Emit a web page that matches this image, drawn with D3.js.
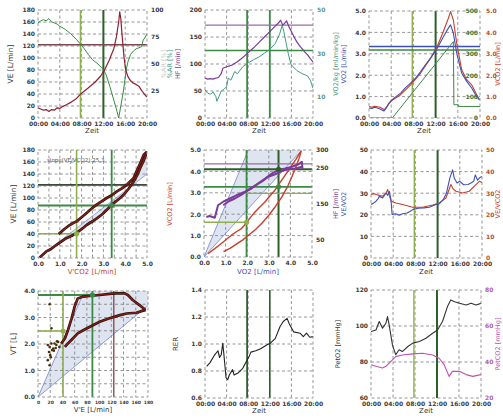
<!DOCTYPE html>
<html><head><meta charset="utf-8">
<script src="https://cdn.jsdelivr.net/npm/d3@7"></script>
<style>body{margin:0;background:#fff}svg{display:block;font-family:"DejaVu Sans",sans-serif}</style>
</head><body><script>
// ---------- DATA ----------
const timeTicks=[0,4,8,12,16,20];
const timeTickLabels=["00:00","04:00","08:00","12:00","16:00","20:00"];
const thresholdTimes=[7.8,12.0];

// Panel 1: VE and breathing reserve vs time
const veTicks=[0,20,40,60,80,100,120,140,160,180];
const brTicks=[25,50,75,100];
const veSeries=[[0,17],[0.5,15],[1,13],[1.5,14],[2,11],[2.5,14],[3,13],[3.5,17],[4,16],[4.5,19],[5.2,22],[6,26],[7,32],[7.7,39],[8.5,45],[9.2,50],[10.5,60],[11.5,70],[12.2,80],[13,95],[13.9,115],[14.4,136],[14.8,160],[15.0,177],[15.2,165],[15.4,141],[15.8,100],[16.1,80],[16.5,69],[17,62],[17.5,58],[18,56],[18.5,53],[19,46],[19.5,40],[20,35]];
const brSeries=[[0,88],[0.5,90],[1,91],[1.5,90],[2,92],[2.5,89],[3,88],[3.5,87],[4,85],[5,82],[6,78],[7,73],[7.7,69],[8.5,64],[9.2,59],[10,54],[11,50],[12,45],[12.5,40],[13.2,29],[14,15],[14.5,6],[14.8,0],[15.3,14],[15.7,26],[16.2,45],[16.5,52],[17,59],[17.5,62],[18,64],[18.5,65],[19,66],[19.3,72],[19.7,75],[20,78]];
const veMaxLine=122;

// Panel 2: HF and O2-pulse vs time
const hfTicks=[0,50,100,150,200];
const p2RightTicks=[10,30,50];
const hfSeries=[[0,74],[0.5,72],[1,73],[1.5,72],[2,74],[2.5,75],[3,82],[3.3,92],[4,95],[5,98],[6,104],[7,112],[8,121],[9,130],[10,140],[11,150],[12,160],[13,170],[13.5,175],[14,181],[14.4,172],[14.8,176],[15.1,180],[15.5,170],[16,160],[16.5,150],[17,141],[17.5,134],[18,128],[18.5,122],[19,117],[19.5,110],[20,104]];
const pulseSeries=[[0,52],[0.5,46],[1,44],[1.5,48],[2,40],[2.2,31],[2.6,40],[3,50],[3.5,53],[4,58],[4.3,74],[4.8,70],[5.5,86],[6,82],[7,95],[8,102],[9,108],[10,113],[11,120],[12,127],[13,138],[13.8,155],[14.3,172],[14.6,160],[15,140],[15.4,120],[15.9,100],[16.3,95],[17,88],[17.5,85],[18,82],[18.5,80],[19,78],[19.5,70],[20,55]];
const hfRefLines=[172,125];

// Panel 3: VO2, VCO2, load vs time
const lTicks=[0,1,2,3,4,5];
const loadTicks=[0,100,200,300,400,500];
const vo2Series=[[0,0.47],[0.5,0.45],[1,0.5],[1.5,0.47],[2,0.42],[2.7,0.33],[3.2,0.5],[3.6,0.7],[4.5,0.93],[5.7,1.16],[6.5,1.4],[7.5,1.63],[8.5,1.9],[9.3,2.17],[10.2,2.5],[11.1,2.8],[11.9,3.1],[12.3,3.26],[13.4,3.8],[14.3,4.2],[14.7,4.35],[15.2,3.96],[15.8,3.03],[16.7,2.1],[17.6,1.71],[18.5,1.4],[19.4,1.0],[19.9,0.85]];
const vco2Series=[[0,0.54],[0.5,0.5],[1,0.55],[2,0.5],[2.8,0.39],[3.9,0.78],[5.7,1.09],[7.5,1.55],[9.3,2.1],[11.1,2.8],[12.3,3.35],[13.4,4.04],[14.3,4.66],[14.7,4.97],[15.2,4.58],[15.8,3.5],[16.7,2.25],[17.6,1.79],[18.5,1.55],[19.4,1.09],[19.9,0.85]];
const loadSeries=[[0,0],[4.2,0],[15.2,357],[15.3,62],[16.1,62],[16.1,54],[20,54]];
const vo2RefLines=[3.34,3.18];

// Panel 4: VE vs VCO2
const veVcoUp=[[0.08,1],[0.38,11],[0.6,15],[0.85,22],[1.1,28],[1.3,33],[1.55,37],[1.77,42],[2.0,48],[2.23,55],[2.45,60],[2.7,66],[2.95,73],[3.15,80],[3.46,91],[3.7,98],[3.92,105],[4.15,115],[4.38,127],[4.55,138],[4.69,150],[4.82,160],[4.92,169],[5.0,177]];
const veVcoDown=[[5.0,177],[4.85,172],[4.69,158],[4.5,143],[4.38,133],[4.08,122],[3.85,116],[3.62,111],[3.4,105],[3.15,100],[2.9,94],[2.69,89],[2.45,82],[2.23,75],[2.0,68],[1.77,61],[1.55,57],[1.38,53],[1.2,48],[1.08,44],[0.95,40]];
const veVcoSlopeLine=[[0,0],[5,140]];
const p4HLines=[122,87.5,40.4];
const p4VLines=[1.77,3.38];
const p4SlopeText="slope(VE/VCO2):25,3";

// Panel 5: VCO2 / HF vs VO2
const hfRightTicks=[50,150,250,300];
const vcoVoA=[[0.19,0.16],[0.35,0.28],[0.5,0.39],[0.7,0.55],[0.89,0.7],[1.1,0.88],[1.27,1.02],[1.5,1.18],[1.74,1.33],[1.97,1.6],[2.15,1.85],[2.36,2.1],[2.6,2.35],[2.83,2.58],[3.05,2.85],[3.29,3.13],[3.5,3.45],[3.76,3.83],[3.92,4.05],[4.07,4.3],[4.25,4.55],[4.38,4.77],[4.5,4.95]];
const vcoVoB=[[0.9,0.25],[1.2,0.4],[1.5,0.6],[1.8,0.8],[2.1,1.05],[2.4,1.3],[2.7,1.6],[3.0,1.95],[3.3,2.35],[3.6,2.8],[3.85,3.25],[4.05,3.7],[4.25,4.2],[4.4,4.6],[4.5,4.95]];
const hfVoA=[[0.11,112],[0.26,115],[0.5,110],[0.65,145],[0.89,155],[1.2,164],[1.5,173],[1.9,183],[2.2,192],[2.5,206],[2.83,220],[3.14,234],[3.45,244],[3.76,248],[4.07,253],[4.38,260],[4.53,267],[4.56,248]];
const hfVoB=[[4.53,253],[4.22,248],[3.91,246],[3.6,241],[3.29,232],[2.98,225],[2.67,211],[2.36,200],[2.05,188],[1.74,175],[1.43,164],[1.12,155],[0.89,145]];
const steepLine=[[0,0],[2.05,5]];
const shallowLine=[[0,0],[4.53,5]];
const p5VLines=[1.97,3.45];

// Panel 6: ventilatory equivalents vs time
const eqTicks=[0,10,20,30,40,50];
const eqO2Series=[[0,24.8],[0.5,25.5],[0.9,26.3],[1.3,27.5],[1.5,28.6],[2.1,27.8],[2.7,30.1],[3.0,29],[3.3,30.9],[3.6,27],[3.8,20.2],[4.5,20.5],[5,19.8],[5.7,20.5],[6.5,20.8],[7.0,21.5],[7.6,22.5],[8.5,23],[9.5,23.2],[10.5,23.5],[11.7,24.8],[12.3,25],[13,27],[13.6,30],[14.2,37],[14.7,40.8],[15.0,37],[15.5,34.7],[16,35.5],[16.7,33.9],[17.5,34],[18,34.7],[18.5,35.5],[18.8,38.5],[19.2,36],[19.5,37],[20,37.8]];
const eqCO2Series=[[0,29.4],[0.5,29.8],[0.9,29.4],[1.5,29],[2.1,28.6],[2.7,30],[3.0,31.7],[3.3,29],[3.6,26.3],[4.5,25.5],[5.7,24.8],[7.5,23.5],[9.3,23.5],[11.1,24.5],[12.3,25.5],[13.5,27.8],[14.4,34],[14.8,32],[15.3,30.9],[16.5,30.1],[17.7,30.9],[18.9,34],[19.5,35.5],[20,35]];

// Panel 7: VT vs VE
const ve7Ticks=[0,20,40,60,80,100,120,140,160,180];
const vtTicks=[0,1,2,3,4];
const vtUp=[[38,2.02],[44,2.21],[49,2.52],[55,2.97],[60,3.41],[65,3.72],[74,3.79],[87,3.82],[101,3.85],[117,3.89],[128,3.91],[142,3.91],[147,3.85],[155,3.66],[166,3.47],[176,3.28]];
const vtDown=[[176,3.28],[172,3.26],[161,3.18],[145,3.15],[134,3.09],[117,2.97],[101,2.84],[85,2.65],[74,2.52],[65,2.4],[57,2.21],[49,2.02],[44,1.89]];
const vtScatter=[[16,1.96],[19,1.89],[22,2.02],[25,1.83],[27,2.02],[30,1.96],[33,2.08],[35,1.89],[18,1.7],[20,1.58],[23,1.77],[16,1.39],[19,1.2],[22,2.59],[19,3.5],[26,1.75],[29,1.85],[31,2.1],[21,1.5]];
const vtSteep=[[0,0],[74,3.9]];
const vtShallow=[[0,0],[180,3.45]];
const p7VLines=[41,89,124];
const p7HLines=[3.85,2.49];

// Panel 8: RER
const rerTicks=[0.6,0.8,1.0,1.2,1.4];
const rerSeries=[[0.3,0.834],[0.9,0.86],[1.8,0.92],[2.4,0.95],[2.7,0.9],[3.0,0.92],[3.3,1.006],[3.6,0.88],[3.9,0.75],[4.2,0.735],[4.5,0.77],[5.1,0.81],[5.4,0.77],[6.1,0.785],[7.0,0.82],[7.6,0.866],[8.2,0.91],[8.5,0.94],[9.4,0.95],[10.3,0.965],[11.5,0.994],[12.1,1.006],[13.0,1.04],[13.9,1.13],[14.5,1.167],[15.2,1.19],[15.6,1.15],[16.4,1.09],[17.6,1.08],[18.2,1.055],[18.8,1.08],[19.4,1.05],[20,1.055]];

// Panel 9: PetO2 / PetCO2
const peto2Ticks=[60,80,100,120];
const petco2Ticks=[20,40,60,80];
const peto2Series=[[0,96.9],[0.9,97.8],[1.5,102.5],[2.1,98.8],[2.7,101.5],[3.0,105.2],[3.3,100.6],[3.9,89.5],[4.5,84],[5.1,86.8],[5.7,85.8],[6.7,88.6],[7.6,90.5],[8.8,91.4],[10,93.2],[11.2,96],[12.1,97.8],[13,102.5],[13.9,110.8],[14.5,114.5],[15.2,113.5],[16.1,112.6],[17.3,111.7],[18.2,112.6],[19.1,111.7],[20,112.6]];
const petco2Series=[[0,38.5],[0.9,37.6],[2.1,36.7],[2.7,37.6],[3.3,39.4],[3.9,41.2],[4.5,43],[5.7,43.9],[7.6,44.5],[9.4,44.9],[11.2,43.9],[12.4,42.1],[13.3,38.5],[14.2,32],[14.8,34.8],[16.1,34.8],[17.3,33],[18.5,32],[20,33]];

// ---------- DRAWING ----------
const svg=d3.select("body").append("svg").attr("width",503).attr("height",418);
const FONT='"DejaVu Sans",sans-serif';
const C={maroon:"#8a2232",green:"#3b8a45",lgreen:"#8fb050",dgreen:"#2e5e2a",purple:"#7a3c98",blue:"#3d4fb8",red:"#c6402c",teal:"#3f9a80",pink:"#c050b0",grid:"#7c7c7c",fill:"#dfe4f1",sblue:"#8090d0"};
let clipN=0;
function panel(L,T,w,h,xd,yd){
  const x=d3.scaleLinear().domain(xd).range([L,L+w]);
  const y=d3.scaleLinear().domain(yd).range([T+h,T]);
  const id="clip"+(clipN++);
  svg.append("clipPath").attr("id",id).append("rect").attr("x",L).attr("y",T).attr("width",w).attr("height",h);
  const g=svg.append("g");
  g.append("rect").attr("x",L).attr("y",T).attr("width",w).attr("height",h).attr("fill","#fff");
  const fillG=g.append("g").attr("clip-path",`url(#${id})`);
  const gridG=g.append("g");
  const data=g.append("g").attr("clip-path",`url(#${id})`);
  const top=g.append("g");
  return {g,x,y,L,T,w,h,fillG,gridG,data,top};
}
function grid(p,xv,yv){
  p.gridG.selectAll(null).data(xv).join("line").attr("x1",d=>p.x(d)).attr("x2",d=>p.x(d)).attr("y1",p.T).attr("y2",p.T+p.h)
   .attr("stroke",C.grid).attr("stroke-width",0.8).attr("stroke-dasharray","3,2.5");
  p.gridG.selectAll(null).data(yv).join("line").attr("y1",d=>p.y(d)).attr("y2",d=>p.y(d)).attr("x1",p.L).attr("x2",p.L+p.w)
   .attr("stroke",C.grid).attr("stroke-width",0.8).attr("stroke-dasharray","3,2.5");
}
function border(p){p.top.append("rect").attr("x",p.L).attr("y",p.T).attr("width",p.w).attr("height",p.h).attr("fill","none").attr("stroke","#8a8a8a").attr("stroke-width",0.9).attr("stroke-dasharray","3,2.5");}
function styleAx(gg,color){gg.select(".domain").remove();gg.selectAll("text").attr("font-size",6).attr("font-weight","bold").attr("fill",color||"#3a3a3a").style("fill",color||"#3a3a3a").attr("font-family",FONT);}
function axisBottom(p,vals,fmt,color){const gg=p.g.append("g").attr("transform",`translate(0,${p.T+p.h})`).call(d3.axisBottom(p.x).tickValues(vals).tickSize(0).tickPadding(4).tickFormat(fmt));styleAx(gg,color);}
function axisLeft(p,scale,vals,fmt,color,xpos){const gg=p.g.append("g").attr("transform",`translate(${xpos===undefined?p.L:xpos},0)`).call(d3.axisLeft(scale).tickValues(vals).tickSize(0).tickPadding(3).tickFormat(fmt));styleAx(gg,color);}
function axisRight(p,scale,vals,fmt,color,xpos){const gg=p.g.append("g").attr("transform",`translate(${xpos===undefined?p.L+p.w:xpos},0)`).call(d3.axisRight(scale).tickValues(vals).tickSize(0).tickPadding(4).tickFormat(fmt));styleAx(gg,color);}
function path(p,data,xs,ys,color,w,layer){(layer||p.data).append("path").datum(data).attr("d",d3.line().x(d=>xs(d[0])).y(d=>ys(d[1]))).attr("fill","none").attr("stroke",color).attr("stroke-width",w).attr("stroke-linejoin","round");}
function thick(p,data,xs,ys){path(p,data,xs,ys,"#2a1408",2.7);path(p,data,xs,ys,"#8a1c1c",1.3);}
function vline(p,v,color,w,y0,y1){p.data.append("line").attr("x1",p.x(v)).attr("x2",p.x(v)).attr("y1",y0===undefined?p.T:p.y(y0)).attr("y2",y1===undefined?p.T+p.h:p.y(y1)).attr("stroke",color).attr("stroke-width",w);}
function hline(p,ys,v,color,w,x0,x1){p.data.append("line").attr("y1",ys(v)).attr("y2",ys(v)).attr("x1",x0===undefined?p.L:p.x(x0)).attr("x2",x1===undefined?p.L+p.w:p.x(x1)).attr("stroke",color).attr("stroke-width",w);}
function dot(p,xv,yv,color){p.data.append("circle").attr("cx",p.x(xv)).attr("cy",p.y(yv)).attr("r",2.6).attr("fill",color);}
function vlabel(x,yc,text,color,size){svg.append("text").attr("transform",`translate(${x},${yc}) rotate(-90)`).attr("text-anchor","middle").attr("font-size",size||7).attr("font-family",FONT).attr("fill",color).text(text);}
function hlabel(xc,y,text,color){svg.append("text").attr("x",xc).attr("y",y).attr("text-anchor","middle").attr("font-size",7).attr("font-family",FONT).attr("fill",color).text(text);}
const tfmt=(d,i)=>timeTickLabels[i];
const f1=d3.format(".1f"), f0=d3.format("d");
function timeLines(p){vline(p,thresholdTimes[0],C.lgreen,1.6);vline(p,thresholdTimes[1],C.dgreen,2);}

// ---- Panel 1 ----
{
 const p=panel(38,10,109,108,[0,20],[0,180]);
 const yr=d3.scaleLinear().domain([0,100]).range([p.T+p.h,p.T]);
 grid(p,[4,8,12,16],[20,40,60,80,100,120,140,160]);
 timeLines(p);
 hline(p,p.y,veMaxLine,"#7a4a50",1.6);
 path(p,brSeries,p.x,yr,C.green,1);
 path(p,veSeries,p.x,p.y,C.maroon,1.2);
 border(p);
 axisBottom(p,timeTicks,tfmt);
 axisLeft(p,p.y,veTicks,f0);
 axisRight(p,yr,brTicks,f0);
 vlabel(13,64,"VE [L/min]","#333",7.5);
 vlabel(166,64,"%AR [%]","#c8c8c8",6.5);
 hlabel(92,133,"Zeit","#333");
}
// ---- Panel 2 ----
{
 const p=panel(205,10,108,108,[0,20],[0,200]);
 const yr=d3.scaleLinear().domain([0,50]).range([p.T+p.h,p.T]);
 grid(p,[4,8,12,16],[50,100,150]);
 vline(p,thresholdTimes[0],C.green,1.8);vline(p,thresholdTimes[1],C.green,1.8);
 hline(p,p.y,hfRefLines[0],"#9a6aa8",1.4);
 hline(p,p.y,hfRefLines[1],C.green,1.6);
 path(p,pulseSeries,p.x,p.y,C.teal,1);
 path(p,hfSeries,p.x,p.y,C.purple,1.2);
 border(p);
 axisBottom(p,timeTicks,tfmt);
 axisLeft(p,p.y,hfTicks,f0);
 axisRight(p,yr,p2RightTicks,f0,"#5a9a80");
 vlabel(172,64,"%AR [%]",C.teal,6.5);
 vlabel(180,64,"HF [/min]",C.purple,6.5);
 hlabel(259,133,"Zeit","#333");
}
// ---- Panel 3 ----
{
 const p=panel(369,11,111,107,[0,20],[0,5]);
 const yl=d3.scaleLinear().domain([0,500]).range([p.T+p.h,p.T]);
 grid(p,[4,8,12,16],[1,2,3,4]);
 vline(p,thresholdTimes[0],C.lgreen,1.4);vline(p,thresholdTimes[1],C.dgreen,2);
 hline(p,p.y,vo2RefLines[0],C.blue,1.4);
 hline(p,p.y,vo2RefLines[1],C.green,1.4);
 path(p,loadSeries,p.x,yl,C.green,1);
 path(p,vco2Series,p.x,p.y,C.red,1.1);
 path(p,vo2Series,p.x,p.y,C.blue,1.1);
 border(p);
 axisBottom(p,timeTicks,tfmt);
 axisLeft(p,p.y,lTicks,f1);
 axisLeft(p,yl,loadTicks,f0,"#3a7a3a",p.L+p.w+1);
 axisRight(p,p.y,lTicks,f1,"#b05040",p.L+p.w+2);
 vlabel(338,64,"VO2/kg [ml/min/kg]",C.teal,6.5);
 vlabel(346,64,"VO2 [L/min]",C.blue,6.5);
 vlabel(500,64,"VCO2 [L/min]",C.red,6.5);
 hlabel(424,133,"Zeit","#333");
}
// ---- Panel 4 ----
{
 const p=panel(38,150,109,108,[0,5],[0,180]);
 grid(p,[0.5,1,1.5,2,2.5,3,3.5,4,4.5],[20,40,60,80,100,120,140,160]);
 const area=veVcoUp.map(d=>[d[0],d[1]]).concat(veVcoSlopeLine.slice().reverse());
 p.fillG.append("path").datum(area).attr("d",d3.line().x(d=>p.x(d[0])).y(d=>p.y(d[1]))).attr("fill",C.fill);
 path(p,veVcoSlopeLine,p.x,p.y,C.sblue,0.8);
 hline(p,p.y,p4HLines[0],"#3c4a3c",1.8);
 hline(p,p.y,p4HLines[1],C.green,1.8);
 hline(p,p.y,p4HLines[2],C.lgreen,1.6,0,p4VLines[0]);
 vline(p,p4VLines[0],C.lgreen,1.6);
 vline(p,p4VLines[1],C.green,1.8);
 thick(p,veVcoDown,p.x,p.y);
 thick(p,veVcoUp,p.x,p.y);
 dot(p,p4VLines[0],p4HLines[2],C.lgreen);
 dot(p,p4VLines[1],p4HLines[1],C.green);
 p.top.append("text").attr("x",p.L+9).attr("y",p.T+12).attr("font-size",5.5).attr("font-family",FONT).attr("fill","#555").text(p4SlopeText);
 border(p);
 axisBottom(p,lTicks,f1);
 axisLeft(p,p.y,veTicks,f0);
 vlabel(16,204,"VE [L/min]","#333",7.5);
 hlabel(92,274,"V'CO2 [L/min]",C.red);
}
// ---- Panel 5 ----
{
 const p=panel(204,150,108,107,[0,5],[0,5]);
 const yr=d3.scaleLinear().domain([0,300]).range([p.T+p.h,p.T]);
 grid(p,[1,2,3,4],[1,2,3,4]);
 const area=[steepLine[0],steepLine[1],shallowLine[1]];
 p.fillG.append("path").datum(area).attr("d",d3.line().x(d=>p.x(d[0])).y(d=>p.y(d[1]))).attr("fill",C.fill);
 path(p,steepLine,p.x,p.y,C.sblue,0.9);
 path(p,shallowLine,p.x,p.y,C.sblue,0.9);
 vline(p,p5VLines[0],C.green,1.8);
 vline(p,p5VLines[1],C.dgreen,2);
 hline(p,p.y,1.62,C.lgreen,1.5,0,p5VLines[0]);
 hline(p,p.y,2.97,C.lgreen,1.3,p5VLines[0],5);
 hline(p,p.y,3.28,C.green,1.8);
 hline(p,p.y,4.1,C.dgreen,1.8);
 hline(p,p.y,4.35,"#9a6aa8",1.2);
 path(p,vcoVoB,p.x,p.y,C.red,1.4);
 path(p,vcoVoA,p.x,p.y,C.red,1.4);
 path(p,hfVoB,p.x,yr,C.purple,2);
 path(p,hfVoA,p.x,yr,C.purple,2);
 dot(p,p5VLines[0],1.62,C.lgreen);
 dot(p,p5VLines[1],3.28,C.green);
 dot(p,p5VLines[1],4.1,C.dgreen);
 border(p);
 axisBottom(p,lTicks,f1);
 axisLeft(p,p.y,lTicks,f1);
 axisRight(p,yr,hfRightTicks,f0);
 vlabel(172,204,"VCO2 [L/min]",C.red,6.5);
 hlabel(258,274,"VO2 [L/min]",C.blue);
}
// ---- Panel 6 ----
{
 const p=panel(371,150,111,108,[0,20],[0,50]);
 grid(p,[4,8,12,16],[10,20,30,40]);
 vline(p,thresholdTimes[0],C.lgreen,1.4);vline(p,thresholdTimes[1],C.dgreen,2);
 path(p,eqCO2Series,p.x,p.y,C.red,1.1);
 path(p,eqO2Series,p.x,p.y,C.blue,1.1);
 border(p);
 axisBottom(p,timeTicks,tfmt);
 axisLeft(p,p.y,eqTicks,f0);
 axisRight(p,p.y,eqTicks,f0,"#b05040");
 vlabel(338,204,"HF [/min]",C.purple,6.5);
 vlabel(346,204,"VE/VO2",C.blue,6.5);
 vlabel(500,204,"VE/VCO2",C.red,6.5);
 hlabel(426,274,"Zeit","#333");
}
// ---- Panel 7 ----
{
 const p=panel(38,291,110,106,[0,180],[0,4]);
 grid(p,[20,40,60,80,100,120,140,160],[0.5,1,1.5,2,2.5,3,3.5]);
 const area=[vtSteep[0],vtSteep[1],[180,3.9*180/74],[180,3.45]];
 p.fillG.append("path").datum(area).attr("d",d3.line().x(d=>p.x(d[0])).y(d=>p.y(d[1]))).attr("fill",C.fill);
 path(p,vtSteep,p.x,p.y,C.sblue,0.9);
 path(p,vtShallow,p.x,p.y,C.sblue,0.9);
 hline(p,p.y,p7HLines[0],C.green,1.8,0,p7VLines[1]);
 hline(p,p.y,p7HLines[1],C.lgreen,1.6,0,p7VLines[0]);
 vline(p,p7VLines[0],C.lgreen,1.6);
 vline(p,p7VLines[1],C.green,1.8);
 vline(p,p7VLines[2],"#8a5050",1.4);
 thick(p,vtDown,p.x,p.y);
 thick(p,vtUp,p.x,p.y);
 p.data.selectAll(null).data(vtScatter).join("circle").attr("cx",d=>p.x(d[0])).attr("cy",d=>p.y(d[1])).attr("r",1.3).attr("fill","#4a3010");
 dot(p,p7VLines[1],p7HLines[0],C.green);
 dot(p,p7VLines[0],p7HLines[1],C.lgreen);
 border(p);
 const gg=p.g.append("g").attr("transform",`translate(0,${p.T+p.h})`).call(d3.axisBottom(p.x).tickValues(ve7Ticks).tickSize(0).tickPadding(4).tickFormat(f0));
 styleAx(gg); gg.selectAll("text").attr("font-size",4.5);
 axisLeft(p,p.y,vtTicks,f1);
 vlabel(16,344,"VT [L]","#333",7.5);
 hlabel(93,412,"V'E [L/min]","#333");
}
// ---- Panel 8 ----
{
 const p=panel(205,290,108,108,[0,20],[0.6,1.4]);
 grid(p,[4,8,12,16],[0.8,1.0,1.2]);
 vline(p,thresholdTimes[0],C.dgreen,1.8);vline(p,thresholdTimes[1],C.dgreen,1.6);
 path(p,rerSeries,p.x,p.y,"#222",1.1);
 border(p);
 axisBottom(p,timeTicks,tfmt);
 axisLeft(p,p.y,rerTicks,f1);
 vlabel(178,344,"RER","#333",7);
 hlabel(259,413,"Zeit","#333");
}
// ---- Panel 9 ----
{
 const p=panel(371,290,110,108,[0,20],[60,120]);
 const yr=d3.scaleLinear().domain([20,80]).range([p.T+p.h,p.T]);
 grid(p,[4,8,12,16],[80,100]);
 vline(p,thresholdTimes[0],C.lgreen,1.4);vline(p,thresholdTimes[1],C.dgreen,2);
 path(p,petco2Series,p.x,yr,C.pink,1.1);
 path(p,peto2Series,p.x,p.y,"#333",1.1);
 border(p);
 axisBottom(p,timeTicks,tfmt);
 axisLeft(p,p.y,peto2Ticks,f0);
 axisRight(p,yr,petco2Ticks,f0,"#b060a0");
 vlabel(340,344,"PetO2 [mmHg]","#333",6.5);
 vlabel(500,344,"PetCO2 [mmHg]",C.pink,6.5);
 hlabel(426,413,"Zeit","#333");
}
</script></body></html>
